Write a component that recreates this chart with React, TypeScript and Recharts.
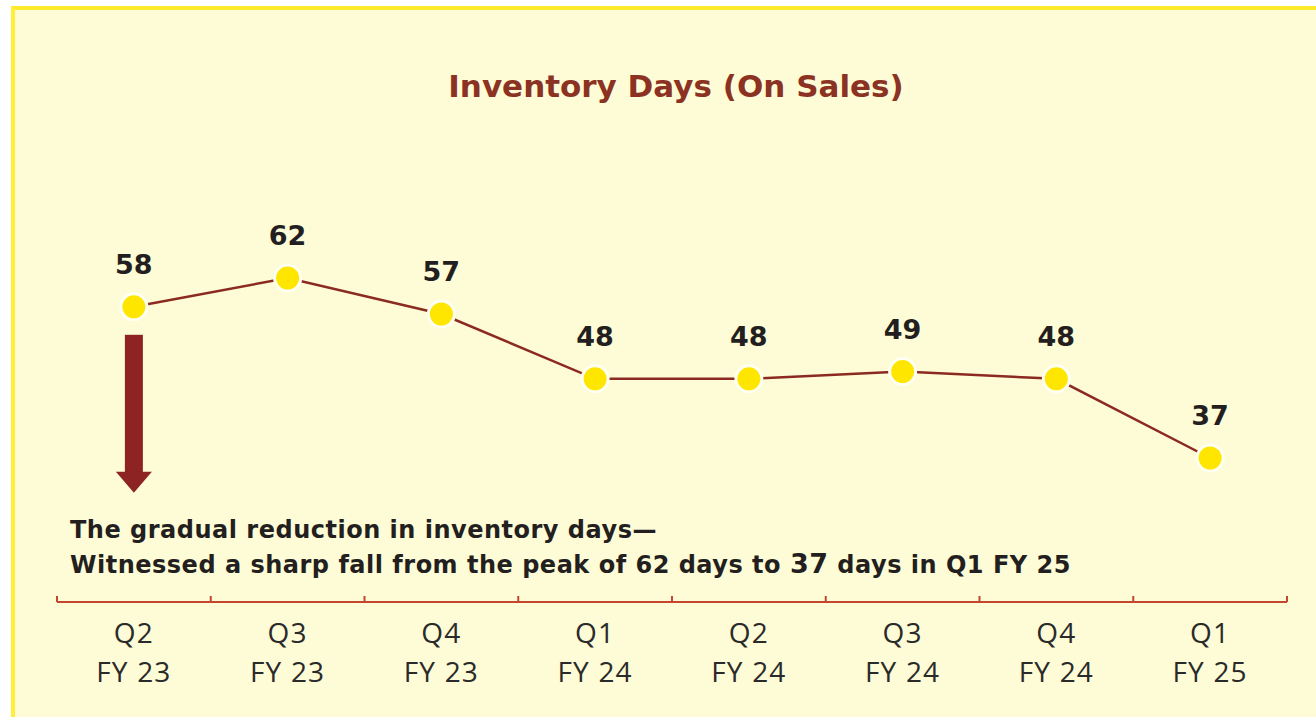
import React from 'react';
import { LineChart, Line, XAxis, YAxis, LabelList } from 'recharts';

const quarters = ['Q2', 'Q3', 'Q4', 'Q1', 'Q2', 'Q3', 'Q4', 'Q1'];
const fiscalYears = ['FY 23', 'FY 23', 'FY 23', 'FY 24', 'FY 24', 'FY 24', 'FY 24', 'FY 25'];
const inventoryDays = [58, 62, 57, 48, 48, 49, 48, 37];

const data = quarters.map((q, i) => ({
  period: `${q} ${fiscalYears[i]}`,
  days: inventoryDays[i],
}));

const W = 1316;
const H = 717;
const margin = { top: 242, right: 29, left: 57, bottom: 35 };
const bandWidth = (W - margin.left - margin.right) / quarters.length;

const FONT = '"Open Sans", "Noto Sans", sans-serif';
const BOLD_FONT = '"DejaVu Sans", "Open Sans", sans-serif';
const AXIS_RED = '#C4462F';
const LINE_RED = '#8B2A20';
const TEXT_DARK = '#231F20';

const QuarterTick = (props: any) => {
  const { x, y, index } = props;
  const last = index === quarters.length - 1;
  return (
    <g>
      <line x1={x - bandWidth / 2} x2={x - bandWidth / 2} y1={y - 6} y2={y} stroke={AXIS_RED} strokeWidth={2} />
      {last && (
        <line x1={x + bandWidth / 2} x2={x + bandWidth / 2} y1={y - 6} y2={y} stroke={AXIS_RED} strokeWidth={2} />
      )}
      <text x={x} y={y + 41} textAnchor="middle" fontFamily={FONT} fontSize={28} letterSpacing={1.2} fill="#2a2a2a">
        {quarters[index]}
      </text>
      <text x={x} y={y + 80} textAnchor="middle" fontFamily={FONT} fontSize={28} letterSpacing={1.2} fill="#2a2a2a">
        {fiscalYears[index]}
      </text>
    </g>
  );
};

const ValueLabel = (props: any) => {
  const { x, y, value, index } = props;
  return (
    <g>
      <text x={x} y={y - 33} textAnchor="middle" fontFamily={BOLD_FONT} fontWeight={700} fontSize={27} fill={TEXT_DARK}>
        {value}
      </text>
      {index === 0 && (
        <g fill="#8E2323">
          <rect x={x - 9} y={y + 28} width={18} height={138} />
          <polygon points={`${x - 18},${y + 165} ${x + 18},${y + 165} ${x},${y + 186}`} />
        </g>
      )}
    </g>
  );
};

export default function App() {
  return (
    <div style={{ position: 'absolute', left: 0, top: 0, width: W, height: H, background: '#ffffff', overflow: 'hidden' }}>
      <div
        style={{
          position: 'absolute',
          left: 11,
          top: 6,
          right: 0,
          bottom: 0,
          background: '#FEFCD6',
          borderTop: '4px solid #FFE92A',
          borderLeft: '4px solid #FFEE3A',
        }}
      />
      <div style={{ position: 'absolute', left: 0, top: 0 }}>
        <LineChart width={W} height={H} data={data} margin={margin}>
          <XAxis
            dataKey="period"
            scale="band"
            height={80}
            axisLine={{ stroke: AXIS_RED, strokeWidth: 2 }}
            tickLine={false}
            tickSize={0}
            tickMargin={0}
            tick={<QuarterTick />}
            interval={0}
          />
          <YAxis hide domain={[17, 67]} />
          <Line
            type="linear"
            dataKey="days"
            stroke={LINE_RED}
            strokeWidth={2.5}
            dot={{ r: 13, fill: '#FFE600', stroke: '#FFFFF2', strokeWidth: 3, fillOpacity: 1 }}
            activeDot={false}
            isAnimationActive={false}
          >
            <LabelList dataKey="days" content={<ValueLabel />} />
          </Line>
        </LineChart>
      </div>
      <svg width={W} height={H} style={{ position: 'absolute', left: 0, top: 0, pointerEvents: 'none' }}>
        <text x={676} y={97} textAnchor="middle" fontFamily={BOLD_FONT} fontWeight={700} fontSize={31} fill="#8B3222">
          Inventory Days (On Sales)
        </text>
        <text x={70} y={538} fontFamily={BOLD_FONT} fontWeight={700} fontSize={24} letterSpacing={0.5} fill={TEXT_DARK}>
          The gradual reduction in inventory days—
        </text>
        <text x={70} y={573} fontFamily={BOLD_FONT} fontWeight={700} fontSize={24} letterSpacing={0.5} fill={TEXT_DARK}>
          Witnessed a sharp fall from the peak of 62 days to <tspan fontSize={27}>37</tspan> days in Q1 FY 25
        </text>
      </svg>
    </div>
  );
}
